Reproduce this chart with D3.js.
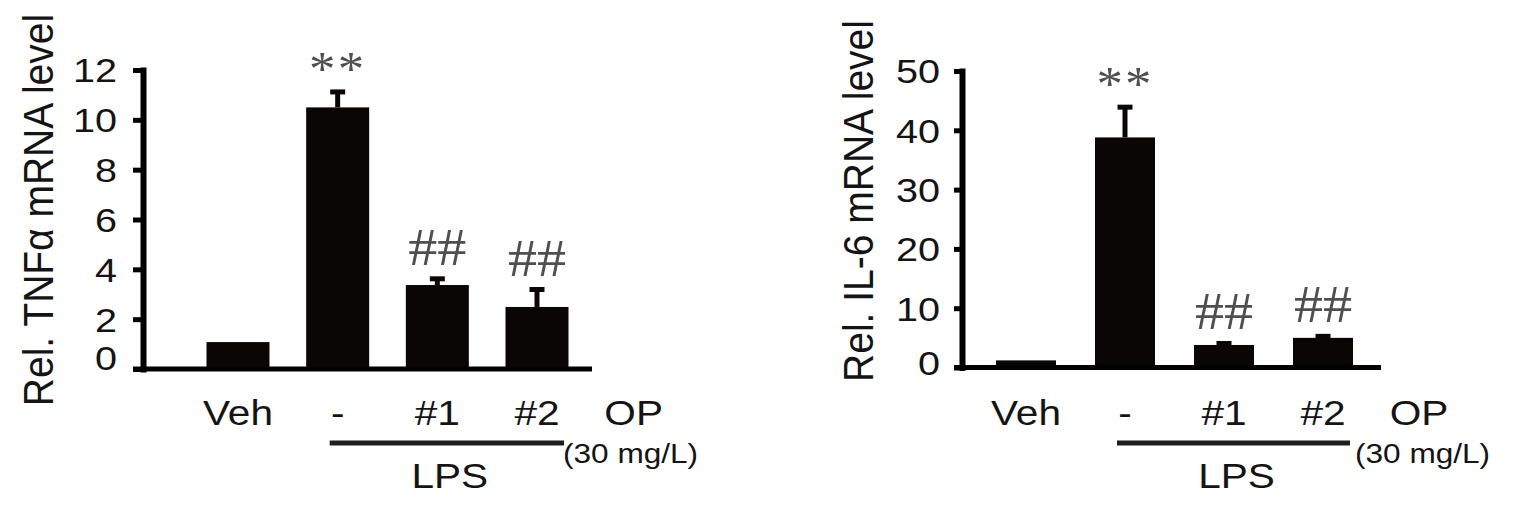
<!DOCTYPE html>
<html lang="en">
<head>
<meta charset="UTF-8">
<title>TNFa / IL-6 mRNA</title>
<script src="https://d3js.org/d3.v7.min.js"></script>
<style>
  body { margin: 0; background: #fff; }
  .bar { fill: #0a0606; }
  .err { stroke: #0a0606; }
  .label { font-family: "Liberation Sans", Arial, sans-serif; fill: #141414; }
  .mark { font-family: "Liberation Serif", "Times New Roman", serif; fill: #4f4f4f; }
</style>
</head>
<body>
<script>
// values
var groups = ["Veh", "-", "#1", "#2"];

var tnfMean  = [1.08, 10.5, 3.37, 2.49];
var tnfErr   = [0, 0.62, 0.25, 0.7];
var tnfSig   = ["", "**", "##", "##"];
var tnfTicks = [0, 2, 4, 6, 8, 10, 12];

var il6Mean  = [1.2, 38.8, 3.8, 5.0];
var il6Err   = [0, 5.1, 0.25, 0.25];
var il6Sig   = ["", "**", "##", "##"];
var il6Ticks = [0, 10, 20, 30, 40, 50];

var treatLabel = "LPS", opLabel = "OP", doseLabel = "(30 mg/L)";

var width = 1524, height = 518;

var svg = d3.select("body").append("svg")
    .attr("width", width)
    .attr("height", height);

// the original figure is stretched sideways, so text gets a horizontal scale
function place(sel, x, y, s) {
  return sel.attr("transform", "translate(" + x + "," + y + ") scale(" + s + ",1)");
}

function panel(p) {
  var y = d3.scaleLinear().domain([0, d3.max(p.ticks)]).range([p.bottom, p.top]);
  var x = d3.scalePoint().domain(groups).range([p.first, p.last]);
  var step = x.step();
  var g = svg.append("g");

  // bars
  g.selectAll(".bar")
      .data(p.mean)
    .enter().append("rect")
      .attr("class", "bar")
      .attr("x", function(d, i) { return x(groups[i]) - p.barW / 2; })
      .attr("width", p.barW)
      .attr("y", function(d) { return y(d); })
      .attr("height", function(d) { return p.bottom - y(d); });

  // upper error bars + significance marks
  p.mean.forEach(function(m, i) {
    var cx = x(groups[i]), top = y(m + p.err[i]);
    if (p.err[i] > 0) {
      g.append("line").attr("class", "err")
          .attr("x1", cx).attr("x2", cx)
          .attr("y1", y(m)).attr("y2", top)
          .attr("stroke-width", 5);
      g.append("line").attr("class", "err")
          .attr("x1", cx - 7.5).attr("x2", cx + 7.5)
          .attr("y1", top).attr("y2", top)
          .attr("stroke-width", 5);
    }
    var s = p.sig[i];
    if (s === "**") {
      place(g.append("text"), cx, top - 22 + 15, 1.1)
          .attr("class", "mark")
          .attr("font-size", 48)
          .attr("text-anchor", "middle")
          .attr("letter-spacing", 2)
          .text(s);
    } else if (s) {
      place(g.append("text"), cx, top - 14, 1.12)
          .attr("class", "mark")
          .attr("font-size", 52)
          .attr("text-anchor", "middle")
          .text(s);
    }
  });

  // y axis
  var ax = g.append("g")
      .attr("transform", "translate(" + p.axisX + ",0)")
      .attr("font-family", null)
      .attr("font-size", null)
      .call(d3.axisLeft(y).tickValues(p.ticks).tickSize(p.tick).tickSizeOuter(0));
  ax.select(".domain").attr("stroke-width", 6).attr("stroke-linecap", "square").attr("stroke", "#000");
  ax.selectAll(".tick line").attr("stroke-width", 5).attr("stroke", "#000");
  ax.selectAll(".tick text")
      .attr("class", "label")
      .attr("font-size", 33)
      .attr("x", -p.gap / 1.2)
      .attr("transform", "scale(1.2,1)")
      .attr("dy", "0.36em")
      .filter(function(d) { return d === 0; })
      .attr("y", p.zeroShift);

  // baseline
  g.append("line")
      .attr("x1", p.axisX - p.tick).attr("x2", p.end)
      .attr("y1", p.bottom).attr("y2", p.bottom)
      .attr("stroke", "#000").attr("stroke-width", 5);

  // y title
  g.append("text")
      .attr("class", "label")
      .attr("font-size", 39)
      .attr("text-anchor", "middle")
      .attr("transform", "translate(" + p.titleX + "," + p.titleY + ") rotate(-90) scale(1,1.1)")
      .text(p.title);

  // group labels under the bars
  groups.forEach(function(name) {
    place(g.append("text"), x(name), 425, 1.16)
        .attr("class", "label").attr("font-size", 35)
        .attr("text-anchor", "middle").text(name);
  });
  place(g.append("text"), p.last + step * 0.97, 425, 1.16)
      .attr("class", "label").attr("font-size", 35)
      .attr("text-anchor", "middle").text(opLabel);

  // LPS bracket
  var lx1 = x("-") - 8, lx2 = x("#2") + 27;
  g.append("line")
      .attr("x1", lx1).attr("x2", lx2)
      .attr("y1", 443).attr("y2", 443)
      .attr("stroke", "#1e1e1e").attr("stroke-width", 5);
  place(g.append("text"), (lx1 + lx2) / 2 + 3, 488, 1.16)
      .attr("class", "label").attr("font-size", 35)
      .attr("text-anchor", "middle").text(treatLabel);
  place(g.append("text"), x("#2") + p.doseX, 463, 1.17)
      .attr("class", "label").attr("font-size", 27)
      .text(doseLabel);
}

panel({
  mean: tnfMean, err: tnfErr, sig: tnfSig, ticks: tnfTicks,
  title: "Rel. TNF\u03b1 mRNA level",
  axisX: 143, top: 70, bottom: 369, first: 238, last: 537, barW: 63, end: 592,
  tick: 10, gap: 26, zeroShift: -11, titleX: 53, titleY: 210, doseX: 26
});

panel({
  mean: il6Mean, err: il6Err, sig: il6Sig, ticks: il6Ticks,
  title: "Rel. IL-6 mRNA level",
  axisX: 962, top: 71, bottom: 367.5, first: 1026, last: 1323, barW: 60, end: 1381,
  tick: 8, gap: 22, zeroShift: -5, titleX: 873, titleY: 201, doseX: 32
});
</script>
</body>
</html>
